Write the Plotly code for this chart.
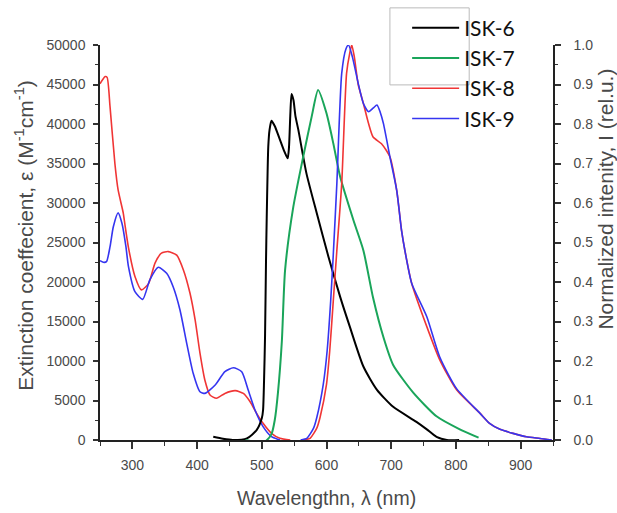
import plotly.graph_objects as go

# ---- absorption (left axis, extinction coefficient) ----
abs8_wl = [250, 254, 258, 261, 265.5, 273, 278, 286, 289, 294, 304, 314, 325, 335, 345, 355.5, 368.5, 379, 389, 397, 404.5, 412, 420, 430, 443, 459, 471.5, 482, 492, 502, 515, 528, 544]
abs8_eps = [45100, 45600, 46000, 45900, 42200, 35000, 31650, 28700, 27000, 24350, 20700, 19000, 19800, 22400, 23650, 23850, 23400, 21500, 18600, 15200, 11000, 7600, 5700, 5280, 5900, 6250, 5900, 4850, 3380, 2110, 840, 210, 0]

abs9_wl = [250, 255, 260, 265.5, 270.6, 278, 284, 290, 294, 304, 316, 327, 340, 353, 363, 373.6, 384, 394, 404.5, 412, 428, 443, 456, 469, 479, 489.5, 502, 515, 528]
abs9_eps = [22700, 22500, 22570, 24470, 27000, 28750, 27400, 24500, 21940, 18770, 17800, 20260, 21860, 21100, 19400, 16460, 12240, 8440, 6110, 5900, 6960, 8650, 9150, 8650, 6330, 3800, 1690, 420, 0]

# ---- emission (right axis, normalized intensity) ----
em6_wl = [425, 440, 455, 477, 492, 500, 502, 503.5, 505, 506.5, 507.6, 509, 510, 512, 515, 520, 527, 535, 540, 542, 544, 546, 549, 552, 556.5, 569, 585, 603, 621, 636, 657, 678, 703, 739, 755, 770, 786, 805]
em6_i = [0.008, 0.003, 0.0, 0.004, 0.025, 0.055, 0.076, 0.15, 0.26, 0.45, 0.56, 0.68, 0.742, 0.785, 0.808, 0.795, 0.765, 0.73, 0.713, 0.74, 0.82, 0.876, 0.86, 0.82, 0.785, 0.675, 0.574, 0.464, 0.363, 0.287, 0.186, 0.127, 0.084, 0.046, 0.027, 0.008, 0.0, 0.0]

em7_wl = [475, 490, 500, 508, 515, 520, 525, 531, 536, 548.7, 564, 577, 587, 600, 610.5, 621, 641.5, 657, 672, 688, 703, 734, 770, 806, 835]
em7_i = [0.0, -0.005, -0.008, 0.0, 0.015, 0.05, 0.12, 0.25, 0.43, 0.59, 0.717, 0.818, 0.886, 0.827, 0.751, 0.667, 0.557, 0.48, 0.36, 0.26, 0.19, 0.12, 0.06, 0.027, 0.006]

em8_wl = [565, 575, 585, 590, 600, 605, 610.5, 616, 623.5, 631, 636, 639, 643, 649, 657, 665, 672, 685, 698, 708.5, 716, 721, 731.6, 755, 775, 801, 837, 852, 868, 909, 930, 948]
em8_i = [0.0, 0.005, 0.03, 0.057, 0.141, 0.226, 0.353, 0.48, 0.649, 0.928, 0.98, 1.0, 0.97, 0.9, 0.852, 0.801, 0.767, 0.75, 0.717, 0.632, 0.53, 0.481, 0.397, 0.287, 0.203, 0.127, 0.068, 0.042, 0.027, 0.008, 0.004, 0.0]

em9_wl = [560, 570, 580, 585, 595, 601, 606.5, 610.5, 616, 623.5, 630, 634, 640, 649, 657, 665, 672, 678, 683, 688, 698, 708.5, 716, 721, 731.6, 755, 775, 801, 837, 852, 868, 909, 930, 948]
em9_i = [0.0, 0.005, 0.03, 0.057, 0.141, 0.226, 0.353, 0.47, 0.649, 0.928, 0.99, 1.0, 0.97, 0.903, 0.852, 0.831, 0.84, 0.848, 0.83, 0.801, 0.717, 0.632, 0.53, 0.481, 0.397, 0.312, 0.21, 0.13, 0.068, 0.042, 0.027, 0.008, 0.004, 0.0]

names = ["ISK-6", "ISK-7", "ISK-8", "ISK-9"]
x_ticks = [300, 400, 500, 600, 700, 800, 900]
y_left_ticks = [0, 5000, 10000, 15000, 20000, 25000, 30000, 35000, 40000, 45000, 50000]
y_right_ticks = [0.0, 0.1, 0.2, 0.3, 0.4, 0.5, 0.6, 0.7, 0.8, 0.9, 1.0]

BLACK = "#000000"
GREEN = "#1aa55a"
RED = "#f03535"
BLUE = "#3535f0"

SM = 0.6

fig = go.Figure()
fig.add_trace(go.Scatter(x=em6_wl, y=em6_i, yaxis="y2", mode="lines", name=names[0],
                         line=dict(color=BLACK, width=2, shape="spline", smoothing=SM)))
fig.add_trace(go.Scatter(x=em7_wl, y=em7_i, yaxis="y2", mode="lines", name=names[1],
                         line=dict(color=GREEN, width=2, shape="spline", smoothing=SM)))
fig.add_trace(go.Scatter(x=em8_wl, y=em8_i, yaxis="y2", mode="lines", name=names[2],
                         line=dict(color=RED, width=1.6, shape="spline", smoothing=SM)))
fig.add_trace(go.Scatter(x=em9_wl, y=em9_i, yaxis="y2", mode="lines", name=names[3],
                         line=dict(color=BLUE, width=1.6, shape="spline", smoothing=SM)))
fig.add_trace(go.Scatter(x=abs8_wl, y=abs8_eps, mode="lines", name=names[2], showlegend=False,
                         line=dict(color=RED, width=1.6, shape="spline", smoothing=SM)))
fig.add_trace(go.Scatter(x=abs9_wl, y=abs9_eps, mode="lines", name=names[3], showlegend=False,
                         line=dict(color=BLUE, width=1.6, shape="spline", smoothing=SM)))

FAM = "Liberation Sans, Arial, sans-serif"
tickfont = dict(family=FAM, size=14, color="#4a4a4a")
titlefont = dict(family=FAM, size=21, color="#4a4a4a")

fig.update_layout(
    width=617, height=513,
    margin=dict(l=100, r=64, t=45, b=73, autoexpand=False),
    paper_bgcolor="white", plot_bgcolor="white",
    xaxis=dict(range=[250, 950], tickvals=x_ticks, ticks="outside", ticklen=7, tickwidth=1.5,
               tickcolor="#333", showline=True, linecolor="#222", linewidth=1.5,
               showgrid=False, zeroline=False, tickfont=tickfont, automargin=False,
               ticklabelstandoff=4,
               minor=dict(dtick=50, ticks="outside", ticklen=4, tickcolor="#333", tickwidth=1.2)),
    yaxis=dict(range=[0, 50000], tickvals=y_left_ticks, tickformat="d", ticks="outside", ticklen=5,
               tickwidth=1.5, tickcolor="#333", showline=True, linecolor="#222", linewidth=1.5,
               showgrid=False, zeroline=False, tickfont=tickfont, automargin=False,
               ticklabelstandoff=5,
               minor=dict(dtick=2500, ticks="outside", ticklen=3, tickcolor="#333", tickwidth=1.2)),
    yaxis2=dict(range=[0, 1.0], tickvals=y_right_ticks, tickformat=".1f", overlaying="y", side="right",
                ticks="outside", ticklen=6, tickwidth=1.5, tickcolor="#333",
                showline=True, linecolor="#222", linewidth=1.5, showgrid=False, zeroline=False,
                tickfont=tickfont, automargin=False, ticklabelstandoff=10,
                minor=dict(dtick=0.05, ticks="outside", ticklen=3, tickcolor="#333", tickwidth=1.2)),
    legend=dict(x=0.678, y=1.095, xanchor="left", yanchor="top", bgcolor="rgba(0,0,0,0)",
                borderwidth=0, itemwidth=47,
                font=dict(family="Lato, Open Sans, sans-serif", size=21, color="#111")),
    showlegend=True,
    annotations=[
        dict(text="Wavelengthn, λ (nm)", xref="paper", yref="paper", x=0.5, y=-0.147,
             showarrow=False, xanchor="center", yanchor="middle",
             font=dict(family=FAM, size=19.5, color="#4a4a4a")),
        dict(text="Extinction coeffecient, ε (M<sup>-1</sup>cm<sup>-1</sup>)", xref="paper", yref="paper",
             x=-0.167, y=0.518, textangle=-90, showarrow=False, xanchor="center", yanchor="middle",
             font=titlefont),
        dict(text="Normalized intenity, I (rel.u.)", xref="paper", yref="paper",
             x=1.116, y=0.61, textangle=-90, showarrow=False, xanchor="center", yanchor="middle",
             font=titlefont),
    ],
)

# partial legend frame as in the original
fig.add_shape(type="rect", xref="paper", yref="paper", x0=0.640, x1=0.815, y0=0.899, y1=1.094,
              line=dict(color="#bbbbbb", width=1), fillcolor="rgba(0,0,0,0)", layer="above")

fig.write_html("out.html", config={"displayModeBar": False},
               post_script="document.body.style.margin='0';")
